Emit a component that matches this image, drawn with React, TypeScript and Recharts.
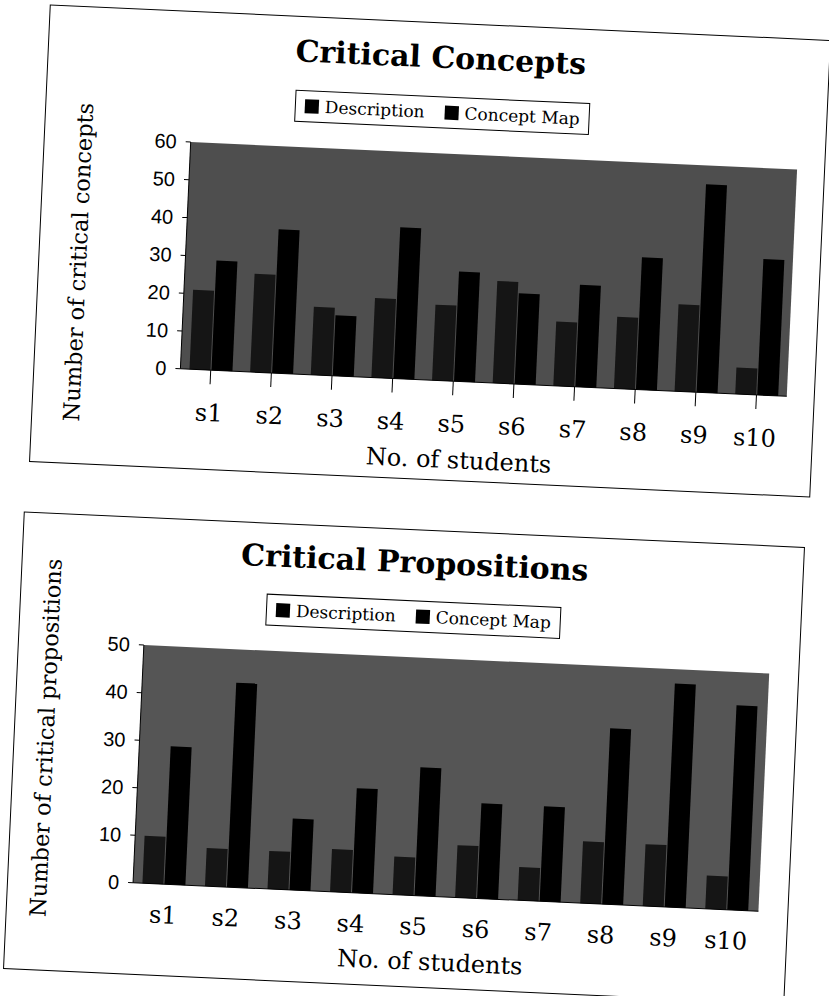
import { Bar, BarChart, CartesianGrid, XAxis, YAxis } from 'recharts'

const students = ['s1', 's2', 's3', 's4', 's5', 's6', 's7', 's8', 's9', 's10']

const conceptsDescription = [21, 26, 18, 21, 20, 27, 17, 19, 23, 7]
const conceptsMap = [29, 38, 16, 40, 29, 24, 27, 35, 55, 36]
const conceptTicks = [0, 10, 20, 30, 40, 50, 60]

const propositionsDescription = [10, 8, 8, 9, 8, 11, 7, 13, 13, 7]
const propositionsMap = [29, 43, 15, 22, 27, 20, 20, 37, 47, 43]
const propositionTicks = [0, 10, 20, 30, 40, 50]

const serif = '"DejaVu Serif", "Liberation Serif", serif'
const sans = '"Liberation Sans", Arial, sans-serif'

const BOX_W = 782
const BOX_H = 458

interface PanelProps {
  title: string
  yLabel: string
  description: number[]
  conceptMap: number[]
  ticks: number[]
  left: number
  top: number
  plot: { left: number; top: number; right: number; bottom: number }
  yLabelPos: { x: number; y: number }
  xLabelPos: { x: number; y: number }
  legendPos: { x: number; y: number }
  titleY: number
  showXTicks: boolean
  background: string
}

const Panel = (p: PanelProps) => {
  const rows = students.map((student, i) => ({
    student,
    description: p.description[i],
    conceptMap: p.conceptMap[i],
  }))
  const yWidth = 50
  const xHeight = 60

  return (
    <div
      style={{
        position: 'absolute',
        left: p.left,
        top: p.top,
        width: BOX_W,
        height: BOX_H,
        boxSizing: 'border-box',
        border: '1.5px solid #000',
        background: '#fff',
        transform: 'rotate(2.6deg)',
        transformOrigin: 'center',
      }}
    >
      <div
        style={{
          position: 'absolute',
          left: 392,
          top: p.titleY,
          transform: 'translate(-50%, -50%)',
          fontFamily: serif,
          fontWeight: 'bold',
          fontSize: 30,
          whiteSpace: 'nowrap',
        }}
      >
        {p.title}
      </div>
      <div
        style={{
          position: 'absolute',
          left: p.legendPos.x,
          top: p.legendPos.y,
          transform: 'translate(-50%, -50%)',
          border: '1px solid #000',
          padding: '5px 9px',
          display: 'flex',
          alignItems: 'center',
          gap: 6,
          fontFamily: serif,
          fontSize: 17,
          whiteSpace: 'nowrap',
          background: '#fff',
        }}
      >
        <span style={{ width: 14, height: 14, background: '#000', display: 'inline-block' }} />
        <span style={{ marginRight: 14 }}>Description</span>
        <span style={{ width: 14, height: 14, background: '#000', display: 'inline-block' }} />
        <span>Concept Map</span>
      </div>
      <div
        style={{
          position: 'absolute',
          left: p.yLabelPos.x,
          top: p.yLabelPos.y,
          transform: 'translate(-50%, -50%) rotate(-90deg)',
          fontFamily: serif,
          fontSize: 22.5,
          whiteSpace: 'nowrap',
        }}
      >
        {p.yLabel}
      </div>
      <div
        style={{
          position: 'absolute',
          left: p.xLabelPos.x,
          top: p.xLabelPos.y,
          transform: 'translate(-50%, -50%)',
          fontFamily: serif,
          fontSize: 24,
          whiteSpace: 'nowrap',
        }}
      >
        No. of students
      </div>
      <div style={{ position: 'absolute', left: -1.5, top: -1.5 }}>
        <BarChart
          width={BOX_W}
          height={BOX_H}
          data={rows}
          barCategoryGap="15%"
          barGap={1}
          margin={{
            left: p.plot.left - yWidth,
            top: p.plot.top,
            right: BOX_W - p.plot.right,
            bottom: BOX_H - p.plot.bottom - xHeight,
          }}
        >
          <CartesianGrid fill={p.background} stroke="none" horizontal={false} vertical={false} />
          <XAxis
            dataKey="student"
            height={xHeight}
            interval={0}
            tickSize={p.showXTicks ? 14 : 10}
            tickLine={p.showXTicks ? { stroke: '#000' } : false}
            tickMargin={p.showXTicks ? 20 : 12}
            axisLine={{ stroke: '#000' }}
            tick={{ fill: '#000', fontSize: 24, fontFamily: serif }}
          />
          <YAxis
            domain={[0, p.ticks[p.ticks.length - 1]]}
            ticks={p.ticks}
            interval={0}
            width={yWidth}
            tickSize={5}
            tickMargin={9}
            axisLine={{ stroke: '#000' }}
            tickLine={{ stroke: '#000' }}
            tick={{ fill: '#000', fontSize: 20, fontFamily: sans }}
          />
          <Bar dataKey="description" name="Description" fill="#151515" isAnimationActive={false} />
          <Bar dataKey="conceptMap" name="Concept Map" fill="#000" isAnimationActive={false} />
        </BarChart>
      </div>
    </div>
  )
}

export default function App() {
  return (
    <div
      style={{
        position: 'absolute',
        left: 0,
        top: 0,
        width: 829,
        height: 996,
        overflow: 'hidden',
        background: '#fff',
      }}
    >
      <Panel
        title="Critical Concepts"
        yLabel="Number of critical concepts"
        description={conceptsDescription}
        conceptMap={conceptsMap}
        ticks={conceptTicks}
        left={38.5}
        top={21.5}
        plot={{ left: 147, top: 131, right: 754, bottom: 358 }}
        yLabelPos={{ x: 39, y: 255 }}
        xLabelPos={{ x: 428, y: 436 }}
        legendPos={{ x: 396, y: 89 }}
        titleY={34}
        showXTicks={true}
        background="#4e4e4e"
      />
      <Panel
        title="Critical Propositions"
        yLabel="Number of critical propositions"
        description={propositionsDescription}
        conceptMap={propositionsMap}
        ticks={propositionTicks}
        left={12.5}
        top={528.5}
        plot={{ left: 126, top: 128, right: 752, bottom: 366 }}
        yLabelPos={{ x: 31, y: 224 }}
        xLabelPos={{ x: 425, y: 431 }}
        legendPos={{ x: 393, y: 86 }}
        titleY={32}
        showXTicks={false}
        background="#555555"
      />
    </div>
  )
}
